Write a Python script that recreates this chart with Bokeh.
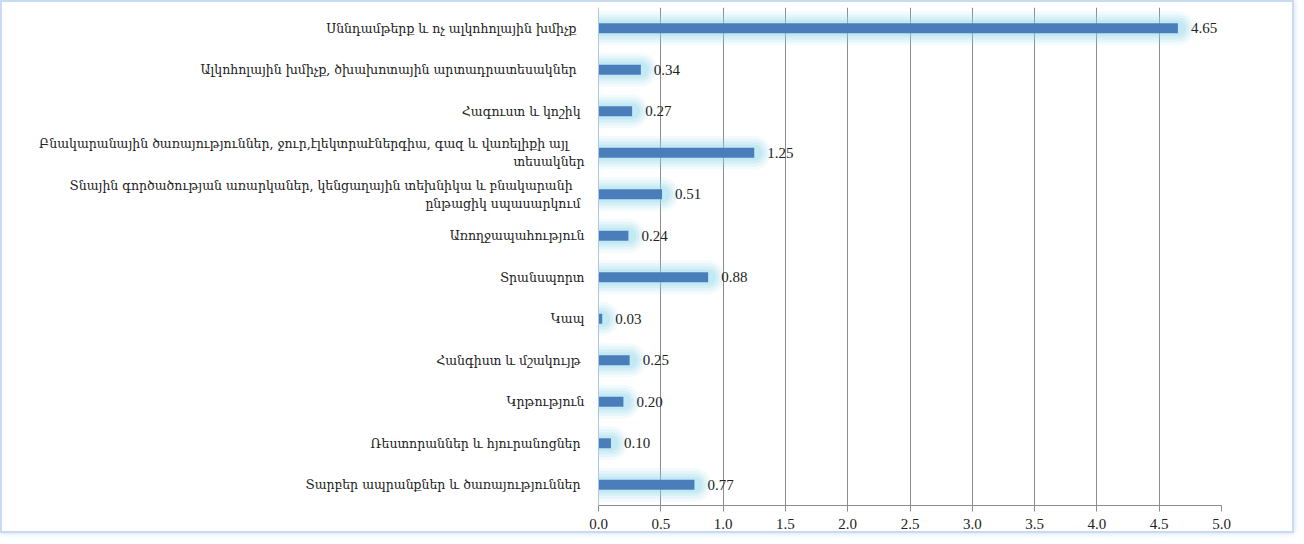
from bokeh.plotting import figure
from bokeh.models import ColumnDataSource, FactorRange, LabelSet, Range1d, SingleIntervalTicker, CustomJSTickFormatter
from bokeh.embed import file_html
from bokeh.resources import INLINE

categories = [
    "Սննդամթերք  և ոչ ալկոհոլային  խմիչք",
    "Ալկոհոլային  խմիչք, ծխախոտային  արտադրատեսակներ",
    "Հագուստ  և կոշիկ",
    "Բնակարանային  ծառայություններ,  ջուր,էլեկտրաէներգիա,  գազ և վառելիքի  այլ\nտեսակներ",
    "Տնային գործածության առարկաներ,  կենցաղային  տեխնիկա  և բնակարանի\nընթացիկ  սպասարկում",
    "Առողջապահություն",
    "Տրանսպորտ",
    "Կապ",
    "Հանգիստ  և մշակույթ",
    "Կրթություն",
    "Ռեստորաններ  և հյուրանոցներ",
    "Տարբեր ապրանքներ  և ծառայություններ",
]
values = [4.65, 0.34, 0.27, 1.25, 0.51, 0.24, 0.88, 0.03, 0.25, 0.20, 0.10, 0.77]
value_labels = ["4.65", "0.34", "0.27", "1.25", "0.51", "0.24", "0.88", "0.03", "0.25", "0.20", "0.10", "0.77"]
zeros = [0.0] * len(values)

src = ColumnDataSource(dict(cat=categories, val=values, lab=value_labels, zero=zeros))

p = figure(
    width=1294, height=533,
    y_range=FactorRange(*reversed(categories)),
    x_range=Range1d(0, 5.0),
    output_backend="svg", toolbar_location=None,
    min_border_left=596, min_border_right=75, min_border_top=5, min_border_bottom=30,
)
p.styles = {"border": "2px solid #c9dcef", "box-shadow": "0 0 6px #c9dcef"}
p.outline_line_color = None
p.background_fill_color = "white"

# glow
for w, a in [(34, 0.10), (28, 0.14), (22, 0.18), (16, 0.25)]:
    p.segment(x0="zero", y0="cat", x1="val", y1="cat", source=src,
              line_width=w, line_color="#8fd6ea", line_alpha=a, line_cap="round")

p.hbar(y="cat", right="val", left=0, height=0.24, source=src,
       fill_color="#4a7ebb", line_color=None)

labels = LabelSet(x="val", y="cat", text="lab", source=src, x_offset=13,
                  text_baseline="middle", text_align="left",
                  text_font="Liberation Serif", text_font_size="15px", text_color="#222222")
p.add_layout(labels)

p.xaxis.ticker = SingleIntervalTicker(interval=0.5)
p.xaxis.formatter = CustomJSTickFormatter(code="return tick.toFixed(1);")
p.xaxis.axis_line_color = "#8c8c8c"
p.xaxis.major_tick_line_color = "#8c8c8c"
p.xaxis.major_tick_out = 6
p.xaxis.major_tick_in = 0
p.xaxis.minor_tick_line_color = None
p.xaxis.major_label_text_font = "Liberation Serif"
p.xaxis.major_label_text_font_size = "15px"
p.xaxis.major_label_text_color = "#222222"
p.xaxis.major_label_standoff = 7

p.yaxis.axis_line_color = "#a9c8e8"
p.yaxis.major_tick_line_color = None
p.yaxis.minor_tick_line_color = None
p.yaxis.major_label_text_font = "DejaVu Serif"
p.yaxis.major_label_text_font_size = "12.5px"
p.yaxis.major_label_text_color = "#222222"
p.yaxis.major_label_standoff = 8

p.xgrid.ticker = SingleIntervalTicker(interval=0.5)
p.xgrid.grid_line_color = "#8c8c8c"
p.ygrid.grid_line_color = None

open("out.html", "w").write(file_html(p, INLINE))
